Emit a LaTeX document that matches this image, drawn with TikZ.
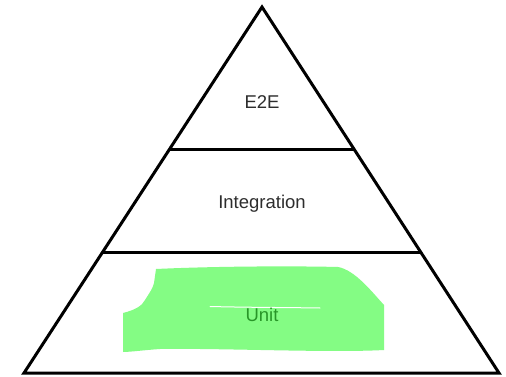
\documentclass[tikz,border=0pt]{standalone}
\usepackage{fontspec}
\setmainfont{Liberation Sans}
\definecolor{blobgreen}{RGB}{132,252,132}
\definecolor{unitgreen}{RGB}{40,150,40}
\definecolor{txtgray}{RGB}{45,45,45}
\begin{document}
\begin{tikzpicture}[x=1pt,y=-1pt,
  edge/.style={line width=3pt, line join=miter, black},
  lbl/.style={font=\fontsize{18.5}{20}\selectfont, text=txtgray, inner sep=0pt}]
\useasboundingbox (0,0) rectangle (506,377);
\fill[white] (0,0) rectangle (506,377);
% triangle corners
\coordinate (apex) at (262,7);
\coordinate (bl) at (24,373);
\coordinate (br) at (499,373);
% green scribble
\fill[blobgreen] (156,269) .. controls (220,266) and (300,266) .. (338,267)
  .. controls (355,270) and (372,292) .. (384,305) -- (384,350)
  .. controls (330,353) and (220,348) .. (160,349)
  .. controls (145,350) and (130,352) .. (123,352) -- (123,313)
  .. controls (135,310) and (142,306) .. (145,300)
  .. controls (150,292) and (153,288) .. (154,283) -- cycle;
\draw[white, line width=1pt, line cap=round] (210,306.5) .. controls (250,307.5) and (290,307.5) .. (320,308);
% triangle
\draw[edge] (bl) -- (apex) -- (br) -- cycle;
\path (apex) -- (bl) coordinate[pos=0.3907] (l1a);
\path (apex) -- (br) coordinate[pos=0.3907] (l1b);
\path (apex) -- (bl) coordinate[pos=0.6694] (l2a);
\path (apex) -- (br) coordinate[pos=0.6694] (l2b);
\draw[edge] (l1a) -- (l1b);
\draw[edge] (l2a) -- (l2b);
\node[lbl] (e2e) at (262,102.5) {E2E};
\node[lbl] (integ) at (262,204) {Integration};
\node[lbl, text=unitgreen] (unit) at (262,315) {Unit};
\end{tikzpicture}
\end{document}
